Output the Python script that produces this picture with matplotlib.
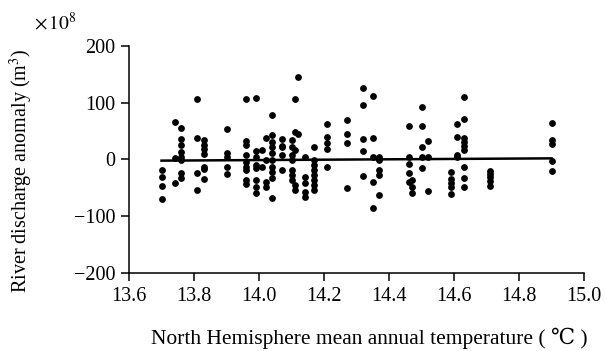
import numpy as np
import matplotlib
matplotlib.use("Agg")
import matplotlib.pyplot as plt

plt.rcParams['font.family'] = ['Liberation Serif', 'DejaVu Serif']
plt.rcParams['mathtext.fontset'] = 'stix'

# columns of points: temperature -> discharge anomaly (x1e8 m3)
columns = {
    13.70: [-18, -31, -47, -70],
    13.74: [66, 2, -41],
    13.76: [55, 36, 26, 13, 4, -1, -24, -33],
    13.81: [107, 38, -24, -54],
    13.83: [34, 26, 19, 10, -13, -16, -34],
    13.90: [54, 11, 4, -13, -26],
    13.96: [107, 33, 26, 8, -4, -13, -18, -36, -43],
    13.99: [108, 15, 4, -10, -15, -36, -48, -59],
    14.01: [17, -13],
    14.02: [38, -1, -40, -48],
    14.04: [78, 43, 31, 22, 11, -1, -13, -22, -33, -68],
    14.07: [36, 24, 22, 8, -18],
    14.10: [34, 22, 8, -1, -18, -27, -36],
    14.11: [107, 48, 17, -45, -54],
    14.12: [145, 45],
    14.14: [4, -31, -41, -57, -66],
    14.17: [22, -1, -10, -18, -27, -36, -45, -54],
    14.21: [63, 40, 29, 19, -13],
    14.27: [70, 45, 29, -50],
    14.32: [126, 96, 36, 15, -29],
    14.35: [112, 38, 4, -40, -85],
    14.37: [4, 0, -1, -18, -27, -63],
    14.46: [59, 4, -8, -24, -40],
    14.47: [-36, -48, -59],
    14.50: [92, 59, 22, 4, -15],
    14.52: [33, 4, -55],
    14.59: [-22, -35, -42, -48, -61],
    14.61: [63, 40, 8, 4],
    14.63: [110, 71, 38, 31, 24, 17, -13, -33, -48],
    14.71: [-20, -26, -31, -38, -47],
    14.90: [64, 34, 27, -3, -20],
}
temp = []
anom = []
for t, vals in columns.items():
    temp += [t] * len(vals)
    anom += vals

fit_x = [13.70, 14.90]
fit_y = [-2, 2]

fig = plt.figure(figsize=(6.06, 3.51), dpi=100)
ax = fig.add_axes([0.2129, 0.2222, 0.7508, 0.6468])
ax.scatter(temp, anom, s=24, color='black', zorder=3, linewidths=0)
ax.plot(fit_x, fit_y, color='black', lw=1.8, zorder=2)

ax.set_xlim(13.6, 15.0)
ax.set_ylim(-200, 200)
ax.set_xticks(np.arange(13.6, 15.01, 0.2))
ax.set_xticklabels(['%.1f' % v for v in np.arange(13.6, 15.01, 0.2)])
ax.set_yticks([-200, -100, 0, 100, 200])
ax.set_yticklabels(['\u2212200', '\u2212100', '0', '100', '200'])
for s in ['top', 'right']:
    ax.spines[s].set_visible(False)
for s in ['left', 'bottom']:
    ax.spines[s].set_linewidth(1.1)
ax.tick_params(axis='both', direction='out', length=6, width=1.1, labelsize=14.5, pad=4)

fig.text(0.61, 0.037, 'North Hemisphere mean annual temperature ( \u2103 )',
         fontsize=15.5, ha='center', va='center')
fig.text(0.036, 0.513, 'River discharge anomaly (m$^3$)', fontsize=14.5,
         rotation=90, ha='center', va='center')
fig.text(0.056, 0.915, r'$\times\,10^{8}$', fontsize=14)

fig.savefig('out.png', dpi=100)
